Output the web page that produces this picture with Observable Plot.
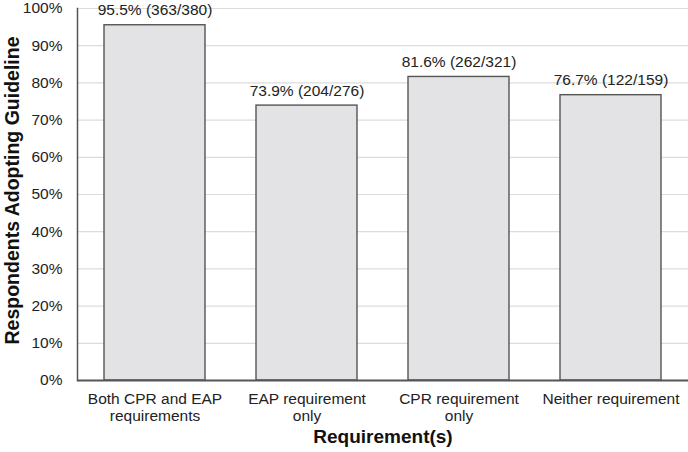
<!DOCTYPE html>
<html>
<head>
<meta charset="utf-8">
<script src="https://cdn.jsdelivr.net/npm/d3@7"></script>
<script src="https://cdn.jsdelivr.net/npm/@observablehq/plot@0.6"></script>
<style>
  body { margin: 0; background: #fff; overflow: hidden; }
  svg { font-family: "Liberation Sans", Arial, sans-serif; }
</style>
</head>
<body>
<div id="chart"></div>
<script>
const categories = ["Both CPR and EAP requirements", "EAP requirement only", "CPR requirement only", "Neither requirement"];
const tickLabels = ["Both CPR and EAP\nrequirements", "EAP requirement\nonly", "CPR requirement\nonly", "Neither requirement"];
const percents = [95.5, 73.9, 81.6, 76.7];
const adopted = [363, 204, 262, 122];
const totals = [380, 276, 321, 159];
const yTicks = [0, 10, 20, 30, 40, 50, 60, 70, 80, 90, 100];

const data = categories.map((c, i) => ({
  cat: c,
  pct: percents[i],
  label: `${percents[i].toFixed(1)}% (${adopted[i]}/${totals[i]})`
}));
const tickMap = new Map(categories.map((c, i) => [c, tickLabels[i]]));

const chart = Plot.plot({
  width: 688,
  height: 452,
  marginLeft: 77,
  marginRight: 0,
  marginTop: 8,
  marginBottom: 72,
  style: { fontFamily: "Liberation Sans, Arial, sans-serif", fontSize: "15.5px", color: "#222", background: "#fff" },
  x: { domain: categories, paddingInner: 0.333, paddingOuter: 0.167, label: null },
  y: { domain: [0, 100], label: null },
  marks: [
    Plot.gridY(yTicks, { stroke: "#dcdcdc", strokeOpacity: 1, strokeWidth: 1.2 }),
    Plot.barY(data, { x: "cat", y: "pct", fill: "#e3e3e5", stroke: "#555", strokeWidth: 1.4 }),
    Plot.text(data, { x: "cat", y: "pct", text: "label", lineAnchor: "bottom", dy: -10, fontSize: 15.5, fill: "#222" }),
    Plot.axisY({ ticks: yTicks, tickSize: 0, tickPadding: 15, tickFormat: d => d + "%", label: null, fontSize: 15.5 }),
    Plot.axisX({ tickSize: 0, tickPadding: 11, tickFormat: d => tickMap.get(d), label: null, lineHeight: 1.1, fontSize: 15.5 }),
    Plot.frame({ anchor: "left", stroke: "#555", strokeWidth: 1.5 }),
    Plot.ruleY([0], { stroke: "#555", strokeWidth: 2 }),
    Plot.text(["Requirement(s)"], { frameAnchor: "bottom", dy: 62, fontWeight: "bold", fontSize: 19, fill: "#111" }),
    Plot.text(["Respondents Adopting Guideline"], { frameAnchor: "left", textAnchor: "middle", dx: -65, dy: -4, rotate: -90, fontWeight: "bold", fontSize: 19.5, fill: "#111" })
  ]
});
document.getElementById("chart").appendChild(chart);
</script>
</body>
</html>
